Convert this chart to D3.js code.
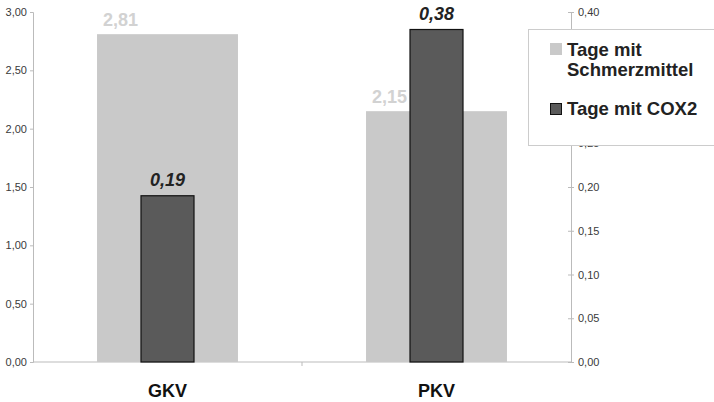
<!DOCTYPE html>
<html>
<head>
<meta charset="utf-8">
<script src="https://cdn.jsdelivr.net/npm/d3@7"></script>
<style>
  body { margin: 0; background: #fff; }
  svg { display: block; font-family: "Liberation Sans", Arial, sans-serif; }
</style>
</head>
<body>
<svg id="chart" width="714" height="402"></svg>
<script>
// Daten
var categories = ["GKV", "PKV"];
var schmerzmittel = [2.81, 2.15];   // linke Achse
var cox2 = [0.19, 0.38];            // rechte Achse
var leftTicks = [0, 0.5, 1, 1.5, 2, 2.5, 3];
var rightTicks = [0, 0.05, 0.1, 0.15, 0.2, 0.25, 0.3, 0.35, 0.4];
var seriesNames = [["Tage mit", "Schmerzmittel"], ["Tage mit COX2"]];

var svg = d3.select("#chart");
var fmt = function(v, d) { return v.toFixed(d).replace(".", ","); };

var x0 = 33, x1 = 571, yTop = 12, yBot = 362;
var legTop = 29.5, legBot = 145.5;

var x = d3.scaleBand().domain(categories).range([x0, x1])
    .paddingInner(0.476).paddingOuter(0.238);
var yL = d3.scaleLinear().domain([0, 3]).range([yBot, yTop]);
var yR = d3.scaleLinear().domain([0, 0.4]).range([yBot, yTop]);

// linke Achse
var axL = svg.append("g").attr("transform", "translate(" + x0 + ",0)")
    .call(d3.axisLeft(yL).tickValues(leftTicks).tickSize(3).tickPadding(3)
      .tickFormat(function(d) { return fmt(d, 2); }));
axL.select(".domain").attr("stroke", "#bbb");
axL.selectAll(".tick line").attr("stroke", "#bbb");
axL.selectAll("text").attr("fill", "#3a3a3a").style("font-size", "11px")
   .style("font-family", "Liberation Sans, Arial, sans-serif");

// rechte Achse
var axR = svg.append("g").attr("transform", "translate(" + x1 + ",0)")
    .call(d3.axisRight(yR).tickValues(rightTicks).tickSize(3).tickPadding(4)
      .tickFormat(function(d) { return fmt(d, 2); }));
axR.select(".domain").attr("stroke", "#bbb");
axR.selectAll(".tick line").attr("stroke", "#bbb").attr("x1", -3);
axR.selectAll("text").attr("fill", "#3a3a3a").style("font-size", "11px")
   .style("font-family", "Liberation Sans, Arial, sans-serif");
// Beschriftungen, die ganz unter der Legende liegen, sind im Original verdeckt
axR.selectAll(".tick").filter(function(d) { return yR(d) > legTop && yR(d) < legBot - 6; })
   .select("text").remove();

// x-Achse
svg.append("line").attr("x1", x0).attr("x2", x1).attr("y1", yBot).attr("y2", yBot)
  .attr("stroke", "#bbb");
svg.append("line").attr("x1", (x0 + x1) / 2).attr("x2", (x0 + x1) / 2)
  .attr("y1", yBot).attr("y2", yBot + 4).attr("stroke", "#bbb");

svg.append("g").selectAll("text").data(categories).enter().append("text")
  .attr("x", function(d) { return x(d) + x.bandwidth() / 2; })
  .attr("y", 397)
  .attr("text-anchor", "middle")
  .attr("font-size", "18px").attr("font-weight", "bold").attr("fill", "#111")
  .text(function(d) { return d; });

// helle Balken (Schmerzmittel)
svg.append("g").selectAll("rect").data(schmerzmittel).enter().append("rect")
  .attr("x", function(d, i) { return x(categories[i]); })
  .attr("width", x.bandwidth())
  .attr("y", function(d) { return yL(d); })
  .attr("height", function(d) { return yBot - yL(d); })
  .attr("fill", "#c9c9c9");

// dunkle Balken (COX2)
var dw = x.bandwidth() * 0.376;
svg.append("g").selectAll("rect").data(cox2).enter().append("rect")
  .attr("x", function(d, i) { return x(categories[i]) + (x.bandwidth() - dw) / 2; })
  .attr("width", dw)
  .attr("y", function(d) { return yR(d); })
  .attr("height", function(d) { return yBot - yR(d); })
  .attr("fill", "#5a5a5a").attr("stroke", "#111").attr("stroke-width", 1.2);

// Beschriftungen
svg.append("g").selectAll("text").data(schmerzmittel).enter().append("text")
  .attr("x", function(d, i) { return x(categories[i]) + x.bandwidth() / 2 - 47; })
  .attr("y", function(d) { return yL(d) - 8; })
  .attr("text-anchor", "middle")
  .attr("font-size", "18px").attr("font-weight", "bold").attr("fill", "#d2d2d2")
  .text(function(d) { return fmt(d, 2); });

svg.append("g").selectAll("text").data(cox2).enter().append("text")
  .attr("x", function(d, i) { return x(categories[i]) + x.bandwidth() / 2; })
  .attr("y", function(d) { return yR(d) - 10; })
  .attr("text-anchor", "middle")
  .attr("font-size", "18px").attr("font-weight", "bold").attr("font-style", "italic")
  .attr("fill", "#222")
  .text(function(d) { return fmt(d, 2); });

// Legende
var lg = svg.append("g");
lg.append("rect").attr("x", 528.5).attr("y", legTop).attr("width", 200).attr("height", legBot - legTop)
  .attr("fill", "#fff").attr("stroke", "#ccc");
lg.append("rect").attr("x", 550).attr("y", 43).attr("width", 12).attr("height", 12)
  .attr("fill", "#c9c9c9");
lg.append("rect").attr("x", 550.5).attr("y", 103.5).attr("width", 11).attr("height", 11)
  .attr("fill", "#5a5a5a").attr("stroke", "#111");
var lt = lg.append("text").attr("font-size", "18.5px").attr("font-weight", "bold").attr("fill", "#222");
lt.append("tspan").attr("x", 567).attr("y", 56).text(seriesNames[0][0]);
lt.append("tspan").attr("x", 567).attr("y", 76).text(seriesNames[0][1]);
lg.append("text").attr("x", 567).attr("y", 115)
  .attr("font-size", "18.5px").attr("font-weight", "bold").attr("fill", "#222")
  .text(seriesNames[1][0]);
</script>
</body>
</html>
